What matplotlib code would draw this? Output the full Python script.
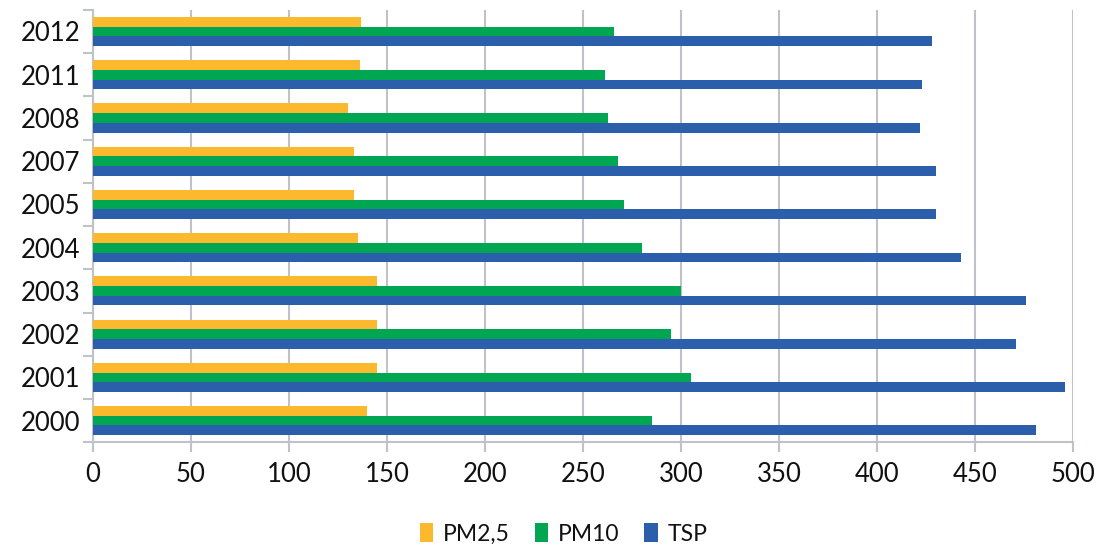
import numpy as np
import matplotlib
matplotlib.use('Agg')
import matplotlib.pyplot as plt

plt.rcParams['font.family'] = ['Lato', 'DejaVu Sans']

# data (bottom to top, as drawn)
years = ['2000', '2001', '2002', '2003', '2004', '2005', '2007', '2008', '2011', '2012']
pm25 = [140, 145, 145, 145, 135, 133, 133, 130, 136, 137]
pm10 = [285, 305, 295, 300, 280, 271, 268, 263, 261, 266]
tsp = [481, 496, 471, 476, 443, 430, 430, 422, 423, 428]

c_pm25 = '#FDB92E'
c_pm10 = '#00A651'
c_tsp = '#2B5EAB'

fig = plt.figure(figsize=(11, 5.48), dpi=100)
ax = fig.add_axes([0.0845, 0.193, 0.891, 0.789])

y = np.arange(len(years))
h = 0.225
ax.barh(y + h, pm25, height=h, color=c_pm25, label='PM2,5', zorder=3)
ax.barh(y, pm10, height=h, color=c_pm10, label='PM10', zorder=3)
ax.barh(y - h, tsp, height=h, color=c_tsp, label='TSP', zorder=3)

ax.set_xlim(0, 500)
ax.set_ylim(-0.5, len(years) - 0.5)
ax.set_xticks(np.arange(0, 501, 50))
ax.set_yticks(y)
ax.set_yticklabels(years)
ax.set_yticks(np.arange(-0.5, len(years), 1), minor=True)

ax.grid(axis='x', color='#BFC3C8', linewidth=1.5, zorder=0)
for s in ['top', 'right']:
    ax.spines[s].set_visible(False)
for s in ['left', 'bottom']:
    ax.spines[s].set_color('#BFC3C8')
    ax.spines[s].set_linewidth(1.5)

ax.tick_params(axis='y', which='major', length=0, labelsize=18.5, pad=9, labelcolor='#111111')
ax.tick_params(axis='y', which='minor', length=7, width=1.5, color='#BFC3C8')
ax.tick_params(axis='x', length=7, width=1.5, color='#BFC3C8', labelsize=18.5, pad=7, labelcolor='#111111')

ax.legend(loc='upper center', bbox_to_anchor=(0.48, -0.14), ncol=3, frameon=False,
          fontsize=16.5, handlelength=0.6, handleheight=0.9, handletextpad=0.4, columnspacing=1.1,
          labelcolor='#111111')

plt.savefig('out.png', dpi=100)
